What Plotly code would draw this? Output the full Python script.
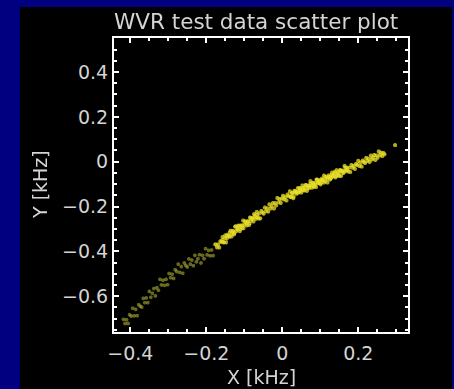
import plotly.graph_objects as go

# ---- data (X, Y in kHz) ----
# sparse lower-left part of the cloud
low_x = [-0.418, -0.414, -0.410, -0.406, -0.402, -0.398, -0.394, -0.390, -0.386, -0.382,
         -0.378, -0.374, -0.370, -0.366, -0.362, -0.358, -0.354, -0.350, -0.346, -0.342,
         -0.338, -0.334, -0.330, -0.326, -0.322, -0.318, -0.314, -0.310, -0.306, -0.302,
         -0.298, -0.294, -0.290, -0.286, -0.282, -0.278, -0.274, -0.270, -0.266, -0.262,
         -0.258, -0.254, -0.250, -0.246, -0.242, -0.238, -0.234, -0.230, -0.226, -0.222,
         -0.218, -0.214, -0.210, -0.206, -0.202, -0.198, -0.194, -0.190, -0.186, -0.182,
         -0.178]
low_y = [-0.704, -0.722, -0.705, -0.722, -0.683, -0.689, -0.654, -0.688, -0.659, -0.687,
         -0.638, -0.645, -0.649, -0.610, -0.629, -0.608, -0.629, -0.579, -0.605, -0.587,
         -0.566, -0.599, -0.562, -0.574, -0.525, -0.550, -0.529, -0.552, -0.525, -0.549,
         -0.499, -0.518, -0.502, -0.521, -0.482, -0.490, -0.457, -0.494, -0.468, -0.498,
         -0.452, -0.463, -0.470, -0.434, -0.457, -0.439, -0.464, -0.418, -0.447, -0.433,
         -0.415, -0.452, -0.418, -0.433, -0.388, -0.416, -0.396, -0.420, -0.394, -0.419,
         -0.369]

# middle part
mid_x = [-0.175, -0.172, -0.169, -0.166, -0.163, -0.160, -0.157, -0.154, -0.151, -0.148,
         -0.145, -0.142, -0.139, -0.136, -0.133, -0.130, -0.127, -0.124, -0.121, -0.118,
         -0.115, -0.112, -0.109, -0.106, -0.103, -0.100, -0.097, -0.094, -0.091, -0.088,
         -0.085, -0.082, -0.079, -0.076, -0.073, -0.070, -0.067, -0.064, -0.061, -0.058,
         -0.055, -0.052, -0.049, -0.046, -0.043, -0.040, -0.037, -0.034, -0.031, -0.028,
         -0.025, -0.022, -0.019, -0.016, -0.013, -0.010, -0.007, -0.004, -0.001,
         -0.158, -0.154, -0.150, -0.146, -0.142, -0.138, -0.134, -0.130, -0.126, -0.122,
         -0.118, -0.114, -0.110, -0.106, -0.102, -0.098, -0.094, -0.090, -0.086, -0.082,
         -0.078, -0.074, -0.070, -0.066, -0.062]
mid_y = [-0.369, -0.382, -0.370, -0.383, -0.355, -0.359, -0.336, -0.359, -0.340, -0.360,
         -0.326, -0.331, -0.335, -0.308, -0.323, -0.309, -0.324, -0.290, -0.309, -0.299,
         -0.285, -0.310, -0.285, -0.295, -0.263, -0.281, -0.268, -0.284, -0.266, -0.283,
         -0.249, -0.263, -0.253, -0.267, -0.241, -0.247, -0.224, -0.249, -0.231, -0.253,
         -0.220, -0.227, -0.232, -0.205, -0.221, -0.208, -0.223, -0.190, -0.209, -0.199,
         -0.185, -0.209, -0.185, -0.195, -0.162, -0.181, -0.167, -0.184, -0.165,
         -0.350, -0.360, -0.329, -0.342, -0.330, -0.315, -0.334, -0.311, -0.318, -0.288,
         -0.302, -0.288, -0.301, -0.284, -0.297, -0.266, -0.276, -0.266, -0.276, -0.251,
         -0.255, -0.234, -0.255, -0.237, -0.254]

# upper-right part
high_x = [0.002, 0.005, 0.008, 0.011, 0.014, 0.017, 0.020, 0.023, 0.026, 0.029,
          0.032, 0.035, 0.038, 0.041, 0.044, 0.047, 0.050, 0.053, 0.056, 0.059,
          0.062, 0.065, 0.068, 0.071, 0.074, 0.077, 0.080, 0.083, 0.086, 0.089,
          0.092, 0.095, 0.098, 0.101, 0.104, 0.107, 0.110, 0.113, 0.116, 0.119,
          0.122, 0.125, 0.128, 0.131, 0.134, 0.137, 0.140, 0.143, 0.146, 0.149,
          0.152, 0.155, 0.158, 0.161, 0.164, 0.167, 0.170, 0.173, 0.176, 0.179,
          0.182, 0.185, 0.188, 0.191, 0.194, 0.197, 0.200, 0.203, 0.206, 0.209,
          0.212, 0.215, 0.218, 0.221, 0.224, 0.227, 0.230, 0.233, 0.236, 0.239,
          0.242, 0.245, 0.248, 0.251, 0.254, 0.257, 0.260, 0.263, 0.266, 0.269,
          0.022, 0.026, 0.030, 0.034, 0.038, 0.042, 0.046, 0.050, 0.054, 0.058,
          0.062, 0.066, 0.070, 0.074, 0.078, 0.082, 0.086, 0.090, 0.094, 0.098,
          0.102, 0.106, 0.110, 0.114, 0.118, 0.122, 0.126, 0.130, 0.134, 0.138,
          0.142, 0.146, 0.150, 0.154, 0.158, 0.162, 0.166, 0.170, 0.297]
high_y = [-0.152, -0.168, -0.158, -0.173, -0.147, -0.154, -0.132, -0.158, -0.140, -0.163,
          -0.130, -0.138, -0.143, -0.118, -0.134, -0.122, -0.138, -0.106, -0.126, -0.117,
          -0.105, -0.130, -0.107, -0.118, -0.087, -0.106, -0.094, -0.112, -0.095, -0.113,
          -0.080, -0.096, -0.087, -0.101, -0.076, -0.083, -0.062, -0.087, -0.070, -0.093,
          -0.061, -0.068, -0.074, -0.049, -0.066, -0.053, -0.070, -0.038, -0.059, -0.049,
          -0.037, -0.063, -0.040, -0.050, -0.019, -0.039, -0.027, -0.044, -0.027, -0.046,
          -0.015, -0.027, -0.019, -0.032, -0.010, -0.015, 0.004, -0.019, -0.004, -0.022,
          0.005, -0.001, -0.006, 0.017, 0.003, 0.013, -0.001, 0.027, 0.010, 0.018,
          0.030, 0.008, 0.028, 0.018, 0.046, 0.029, 0.040, 0.025, 0.039, 0.033,
          -0.157, -0.141, -0.156, -0.132, -0.135, -0.138, -0.118, -0.128, -0.117, -0.129,
          -0.104, -0.118, -0.109, -0.099, -0.116, -0.098, -0.105, -0.080, -0.094, -0.083,
          -0.095, -0.081, -0.093, -0.068, -0.078, -0.069, -0.079, -0.059, -0.063, -0.046,
          -0.064, -0.049, -0.064, -0.040, -0.044, -0.047, -0.027, -0.038, 0.074]

x_range = [-0.443, 0.331]
y_range = [-0.760, 0.552]
x_ticks = [-0.4, -0.2, 0, 0.2]
y_ticks = [-0.6, -0.4, -0.2, 0, 0.2, 0.4]
title_text = "WVR test data scatter plot"
x_title = "X [kHz]"
y_title = "Y [kHz]"

# ---- figure ----
W, H = 454, 389
L, R, T, B = 114, 46, 38, 57
pw, ph = W - L - R, H - T - B
FONT = "DejaVu Sans"
TXT = "#d4d4d4"

fig = go.Figure()
fig.add_trace(go.Scattergl(x=low_x, y=low_y, mode="markers",
                           marker=dict(size=4, color="rgb(170,170,50)", opacity=0.6,
                                       line=dict(width=0)),
                           hoverinfo="skip"))
fig.add_trace(go.Scattergl(x=mid_x, y=mid_y, mode="markers",
                           marker=dict(size=4.5, color="rgb(230,220,40)", opacity=0.75,
                                       line=dict(width=0)),
                           hoverinfo="skip"))
fig.add_trace(go.Scattergl(x=high_x, y=high_y, mode="markers",
                           marker=dict(size=4.5, color="rgb(235,225,40)", opacity=0.75,
                                       line=dict(width=0)),
                           hoverinfo="skip"))

axis_common = dict(
    showgrid=False, zeroline=False, showline=True, linecolor="white", linewidth=2,
    mirror="ticks", ticks="inside", ticklen=5, tickwidth=2, tickcolor="white",
    tickfont=dict(family=FONT, size=19, color=TXT),
    minor=dict(ticks="inside", ticklen=3, tickwidth=1.5, tickcolor="white", dtick=0.05),
)
fig.update_xaxes(range=x_range, tickvals=x_ticks, ticktext=["\u22120.4", "\u22120.2", "0", "0.2"],
                 ticklabelstandoff=3, **axis_common)
fig.update_yaxes(range=y_range, tickvals=y_ticks,
                 ticktext=["\u22120.6", "\u22120.4", "\u22120.2", "0", "0.2", "0.4"],
                 ticklabelstandoff=0, **axis_common)

fig.update_layout(
    width=W, height=H,
    margin=dict(l=L, r=R, t=T, b=B, autoexpand=False),
    paper_bgcolor="#000080",
    plot_bgcolor="black",
    showlegend=False,
    shapes=[dict(type="rect", xref="paper", yref="paper", layer="below",
                 x0=(20 - L) / pw, x1=(452 - L) / pw,
                 y0=(H - B - 389) / ph, y1=(H - B - 7) / ph,
                 fillcolor="black", line=dict(width=0))],
    annotations=[
        dict(text=title_text, xref="paper", yref="paper", x=(256 - L) / pw,
             y=(H - B - 22) / ph, showarrow=False, xanchor="center", yanchor="middle",
             font=dict(family=FONT, size=21.5, color=TXT)),
        dict(text=x_title, xref="paper", yref="paper", x=0.5, y=(H - B - 377) / ph,
             showarrow=False, xanchor="center", yanchor="middle",
             font=dict(family=FONT, size=19, color=TXT)),
        dict(text=y_title, xref="paper", yref="paper", x=(40 - L) / pw, y=0.5,
             showarrow=False, xanchor="center", yanchor="middle", textangle=-90,
             font=dict(family=FONT, size=19, color=TXT)),
    ],
)

fig.write_html("out.html")
